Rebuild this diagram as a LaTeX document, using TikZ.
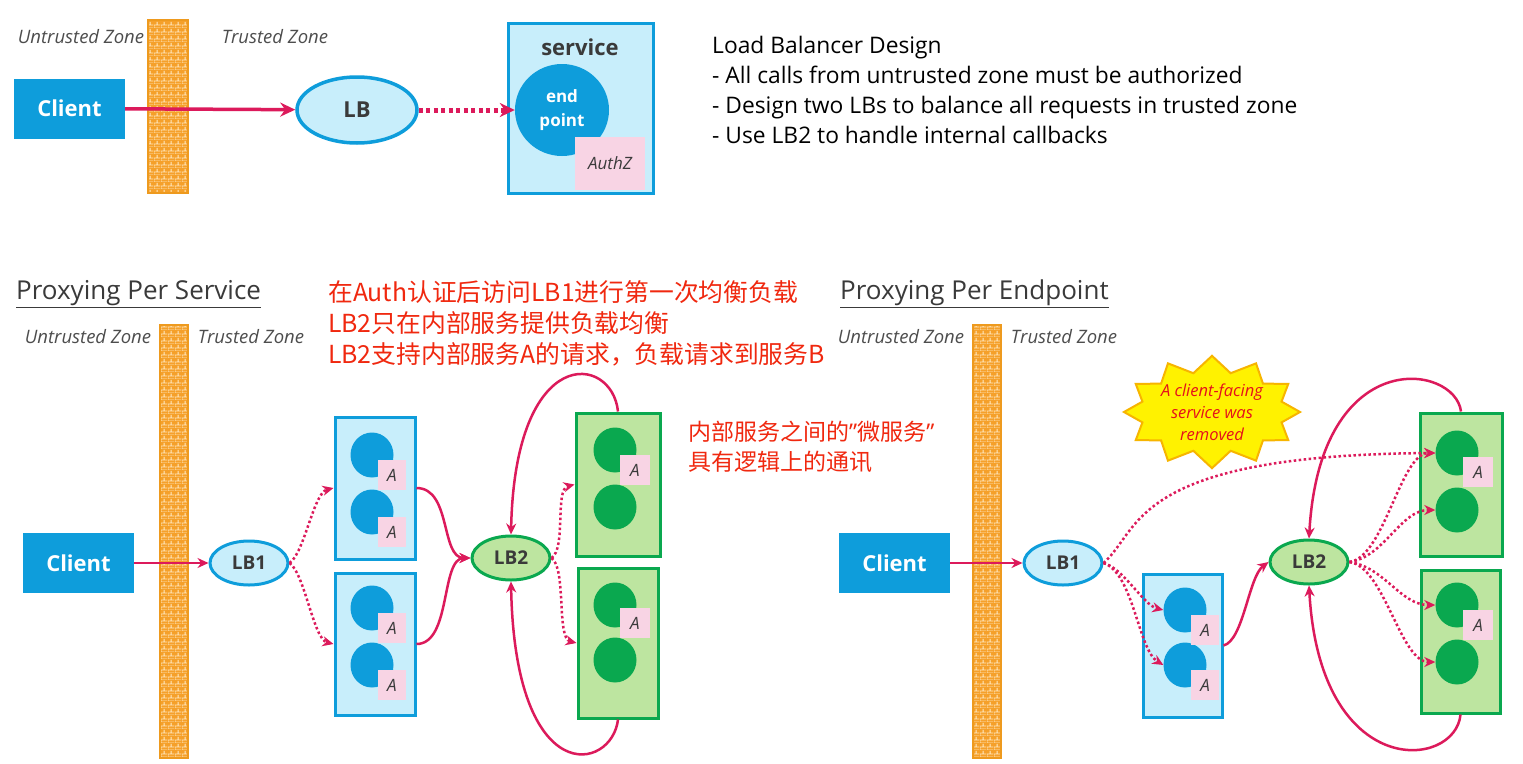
\documentclass[tikz,border=0pt]{standalone}
\usepackage{fontspec}
\setmainfont{Open Sans}
\newfontfamily\cjk{Noto Sans CJK SC}
\usetikzlibrary{arrows.meta,positioning,shapes.geometric,shapes.symbols,patterns}
\definecolor{svcblue}{HTML}{0E9DDB}
\definecolor{svcfill}{HTML}{C8EEFB}
\definecolor{svcgreen}{HTML}{0AA84F}
\definecolor{greenfill}{HTML}{BDE5A0}
\definecolor{authpink}{HTML}{F8D4E4}
\definecolor{arrred}{HTML}{DC1A5B}
\definecolor{wallorange}{HTML}{F5A02A}
\definecolor{wallline}{HTML}{FFE9C2}
\definecolor{wallborder}{HTML}{EE9A1E}
\definecolor{notered}{HTML}{F0280F}
\definecolor{starfill}{HTML}{FFF200}
\definecolor{starline}{HTML}{F7B500}
\definecolor{startext}{HTML}{E5101C}
\definecolor{textgray}{HTML}{3A3A3A}
\definecolor{zonegray}{HTML}{4D4D4D}
\newcommand{\fsz}[2]{\fontsize{#1}{#2}\selectfont}
\pgfdeclarepatternformonly{smallbricks}{\pgfpointorigin}{\pgfpoint{7pt}{7pt}}{\pgfpoint{7pt}{7pt}}{
  \pgfsetlinewidth{0.9pt}
  \pgfpathmoveto{\pgfpoint{0pt}{0pt}}\pgfpathlineto{\pgfpoint{7pt}{0pt}}
  \pgfpathmoveto{\pgfpoint{0pt}{3.5pt}}\pgfpathlineto{\pgfpoint{7pt}{3.5pt}}
  \pgfpathmoveto{\pgfpoint{0pt}{0pt}}\pgfpathlineto{\pgfpoint{0pt}{3.5pt}}
  \pgfpathmoveto{\pgfpoint{3.5pt}{3.5pt}}\pgfpathlineto{\pgfpoint{3.5pt}{7pt}}
  \pgfusepath{stroke}}

\begin{document}
\begin{tikzpicture}[x=1pt, y=-1pt,
  zonelbl/.style={font=\fsz{18.5}{22}\itshape, text=zonegray, inner sep=0pt},
  wall/.style={draw=wallborder, line width=1.2pt, preaction={fill=wallorange}, pattern=smallbricks, pattern color=wallline, minimum width=28pt, minimum height=433pt, inner sep=0pt},
  clientbox/.style={fill=svcblue, text=white, font=\fsz{22}{26}\bfseries, minimum width=111pt, minimum height=60pt, inner sep=0pt},
  lbnode/.style={ellipse, draw=svcblue, line width=3pt, fill=svcfill, text=textgray, font=\fsz{19}{22}\bfseries, minimum width=78pt, minimum height=44pt, inner sep=0pt},
  lbgreen/.style={lbnode, draw=svcgreen, fill=greenfill},
  svcbox/.style={draw=svcblue, line width=3pt, fill=svcfill, minimum width=80pt, minimum height=142pt, inner sep=0pt},
  gsvcbox/.style={svcbox, draw=svcgreen, fill=greenfill, minimum width=82pt},
  epnode/.style={ellipse, fill=svcblue, minimum width=43pt, minimum height=45pt, inner sep=0pt},
  gepnode/.style={epnode, fill=svcgreen},
  abox/.style={fill=authpink, text=textgray, font=\fsz{17}{20}\itshape, minimum width=28pt, minimum height=30pt, inner sep=0pt},
  arr/.style={draw=arrred, line width=2.5pt, -{Stealth[length=11pt, width=10pt]}},
  darr/.style={arr, dash pattern=on 2.5pt off 2.5pt},
  title/.style={font=\fsz{26}{30}, text=textgray, inner sep=0pt, anchor=west},
  note/.style={font=\cjk\fsz{24.8}{31}, text=notered, align=left, inner sep=0pt, anchor=north west}
]
\path[use as bounding box, fill=white] (0,0) rectangle (1523,763);

% single LB with authorization in the endpoint
\node[zonelbl] (untrA) at (81,37) {Untrusted Zone};
\node[wall, minimum width=40pt, minimum height=173pt] (wallA) at (168,106.5) {};
\node[zonelbl] (trA) at (275,37) {Trusted Zone};
\node[clientbox] (clientA) at (69.5,108.5) {Client};
\node[lbnode, minimum width=120pt, minimum height=66pt, line width=3.5pt, font=\fsz{22}{26}\bfseries] (lb) at (357,110) {LB};
\node[svcbox, minimum width=145pt, minimum height=170pt] (svc) at (580.5,108) {};
\node[text=textgray, font=\fsz{22}{26}\bfseries] (svclbl) at (580,47) {service};
\node[epnode, minimum width=94pt, minimum height=92pt, text=white, font=\fsz{17}{24}\bfseries, align=center] (ep) at (562,110) {end\\point};
\node[abox, minimum width=70pt, minimum height=53pt] (authz) at (610,163.5) {AuthZ};
\draw[arr, line width=3.5pt, -{Stealth[length=15pt, width=14pt]}] (clientA) -- (lb);
\draw[arr, line width=5pt, dash pattern=on 4pt off 3.5pt, -{Stealth[length=15pt, width=14pt]}] (lb) -- (ep);

\node[font=\fsz{22.8}{30}, text=black, align=left, anchor=north west, inner sep=0pt] (design) at (712,36)
  {Load Balancer Design\\- All calls from untrusted zone must be authorized\\- Design two LBs to balance all requests in trusted zone\\- Use LB2 to handle internal callbacks};

% proxying per service
\node[title] (titleB) at (16,294) {\underline{Proxying Per Service}};
\node[note] (noteA) at (328,280) {在Auth认证后访问LB1进行第一次均衡负载\\LB2只在内部服务提供负载均衡\\LB2支持内部服务A的请求，负载请求到服务B};
\node[note, font=\cjk\fsz{23}{30}] (noteB) at (688,421) {内部服务之间的{\rmfamily ”}微服务{\rmfamily ”}\\具有逻辑上的通讯};
\node[zonelbl] (untrB) at (88,337) {Untrusted Zone};
\node[zonelbl] (trB) at (251,337) {Trusted Zone};
\node[wall] (wallB) at (174,541.5) {};
\node[clientbox] (clientB) at (78.5,563) {Client};
\node[lbnode] (lb1) at (249,563) {LB1};
\node[svcbox] (bsA) at (375,488) {};
\node[svcbox] (bsB) at (375,644) {};
\node[epnode] (bcA1) at (372,455) {};
\node[epnode] (bcA2) at (372,512) {};
\node[epnode] (bcB1) at (372,608) {};
\node[epnode] (bcB2) at (372,665) {};
\node[abox] (baA1) at ([shift={(20,20)}]bcA1.center) {A};
\node[abox] (baA2) at ([shift={(20,20)}]bcA2.center) {A};
\node[abox] (baB1) at ([shift={(20,20)}]bcB1.center) {A};
\node[abox] (baB2) at ([shift={(20,20)}]bcB2.center) {A};
\node[lbgreen] (lb2) at (511,558) {LB2};
\node[gsvcbox, minimum width=84pt, minimum height=143pt] (gsA) at (618,484.5) {};
\node[gsvcbox, minimum width=80pt, minimum height=150pt] (gsB) at (618,643) {};
\node[gepnode] (gcA1) at (615,450) {};
\node[gepnode] (gcA2) at (615,507) {};
\node[gepnode] (gcB1) at (615,605) {};
\node[gepnode] (gcB2) at (615,660) {};
\node[abox, minimum width=30pt] (gaA) at (635,470) {A};
\node[abox, minimum width=30pt] (gaB) at (635,623) {A};

\draw[arr] (clientB) -- (lb1);
\draw[darr] (lb1.east) .. controls +(15,-10) and +(-20,5) .. (bsA.west);
\draw[darr] (lb1.east) .. controls +(15,10) and +(-20,-5) .. (bsB.west);
\draw[arr] (bsA.east) .. controls +(35,0) and +(-30,0) .. (lb2.west);
\draw[arr] (bsB.east) .. controls +(35,0) and +(-30,0) .. (lb2.west);
\draw[darr] (lb2.east) .. controls +(15,-10) and +(-20,5) .. (gsA.west);
\draw[darr] (lb2.east) .. controls +(15,10) and +(-20,-5) .. (gsB.west);
\draw[arr] (gsA.north) .. controls +(-6,-58) and +(4,-192) .. (lb2.north);
\draw[arr] (gsB.south) .. controls +(-6,52) and +(4,210) .. (lb2.south);

% proxying per endpoint
\node[title] (titleC) at (840,294) {\underline{Proxying Per Endpoint}};
\node[zonelbl] (untrC) at (901,337) {Untrusted Zone};
\node[zonelbl] (trC) at (1064,337) {Trusted Zone};
\node[wall] (wallC) at (987,541.5) {};
\node[clientbox] (clientC) at (894.5,563) {Client};
\node[lbnode] (lb1r) at (1063,563) {LB1};
\node[svcbox, minimum width=79pt, minimum height=143pt] (bsC) at (1182.5,645.5) {};
\node[epnode] (bcC1) at (1185,610) {};
\node[epnode] (bcC2) at (1185,665) {};
\node[abox] (baC1) at ([shift={(20,20)}]bcC1.center) {A};
\node[abox] (baC2) at ([shift={(20,20)}]bcC2.center) {A};
\node[lbgreen] (lb2r) at (1309,562) {LB2};
\node[gsvcbox, minimum height=143pt] (gsC) at (1461,484.5) {};
\node[gsvcbox, minimum width=79pt, minimum height=143pt] (gsD) at (1460.5,641.5) {};
\node[gepnode] (gcC1) at (1457,453) {};
\node[gepnode] (gcC2) at (1457,510) {};
\node[gepnode] (gcD1) at (1457,605) {};
\node[gepnode] (gcD2) at (1457,662) {};
\node[abox, minimum width=30pt] (gaC) at (1478,472) {A};
\node[abox, minimum width=30pt] (gaD) at (1478,625) {A};
\node[starburst, starburst points=12, starburst point height=16pt, random starburst=0, fill=starfill, draw=starline, line width=2pt, minimum width=166pt, minimum height=112pt, inner sep=0pt, align=center, font=\fsz{16.5}{22}\itshape, text=startext] (gone) at (1212,412) {A client-facing\\service was\\removed};

\draw[arr] (clientC) -- (lb1r);
\draw[darr] (lb1r.east) .. controls +(38,-33) and +(-306,2) .. (gcC1.west);
\draw[darr] (lb1r.east) .. controls +(20,5) and +(-20,-5) .. (bcC1.west);
\draw[darr] (lb1r.east) .. controls +(30,10) and +(-25,-15) .. (bcC2.west);
\draw[arr] (bsC.east) .. controls +(20,-5) and +(-20,15) .. (lb2r.west);
\draw[darr] (lb2r.east) .. controls +(35,-5) and +(-35,0) .. (gcC1.west);
\draw[darr] (lb2r.east) .. controls +(35,-5) and +(-35,0) .. (gcC2.west);
\draw[darr] (lb2r.east) .. controls +(35,5) and +(-35,0) .. (gcD1.west);
\draw[darr] (lb2r.east) .. controls +(35,5) and +(-35,0) .. (gcD2.west);
\draw[arr] (gsC.north) .. controls +(-6,-48) and +(11,-195) .. (lb2r.north);
\draw[arr] (gsD.south) .. controls +(-5,55) and +(11,197) .. (lb2r.south);
\end{tikzpicture}
\end{document}
